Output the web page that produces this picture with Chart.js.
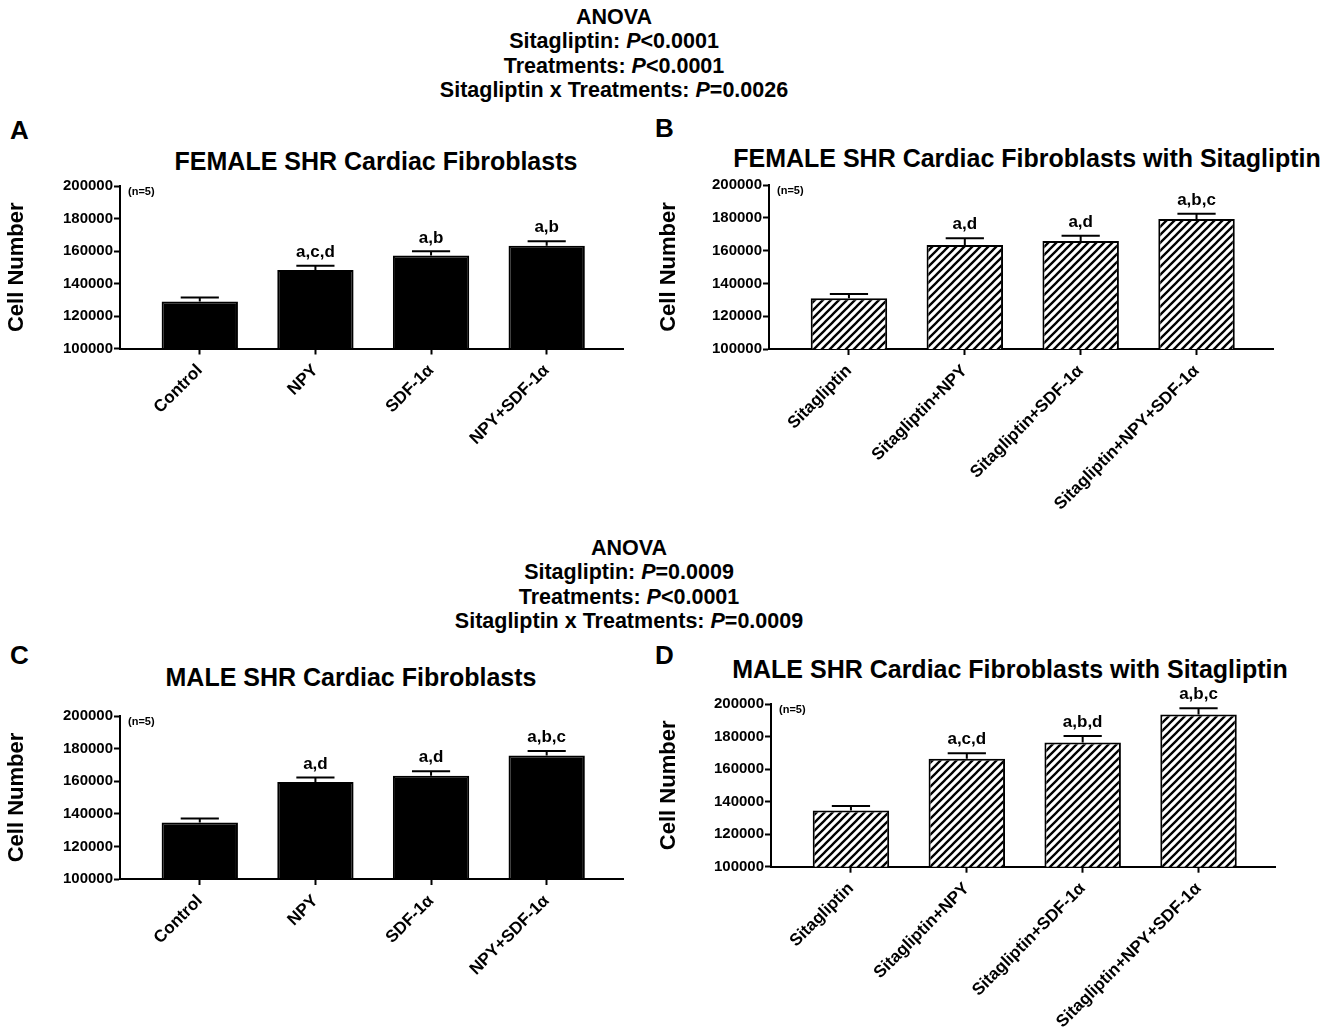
<!DOCTYPE html>
<html>
<head>
<meta charset="utf-8">
<script src="https://cdn.jsdelivr.net/npm/chart.js@4.4.0/dist/chart.umd.min.js"></script>
<style>
  body { margin: 0; background: #fff; width: 1338px; height: 1035px; position: relative; overflow: hidden;
         font-family: "Liberation Sans", Arial, sans-serif; font-weight: bold; color: #000; }
  .anova { position: absolute; width: 600px; text-align: center; font-size: 21.5px; line-height: 24.4px; }
  .letter { position: absolute; font-size: 26px; line-height: 1; }
  .ptitle { position: absolute; width: 700px; text-align: center; font-size: 25px; line-height: 1; white-space: nowrap; }
  canvas { position: absolute; }
</style>
</head>
<body>

<div class="anova" style="left:314px; top:5px;">
  ANOVA<br>Sitagliptin: <i>P</i>&lt;0.0001<br>Treatments: <i>P</i>&lt;0.0001<br>Sitagliptin x Treatments: <i>P</i>=0.0026
</div>
<div class="anova" style="left:329px; top:536px;">
  ANOVA<br>Sitagliptin: <i>P</i>=0.0009<br>Treatments: <i>P</i>&lt;0.0001<br>Sitagliptin x Treatments: <i>P</i>=0.0009
</div>

<div class="letter" style="left:10px; top:117px;">A</div>
<div class="letter" style="left:655px; top:115px;">B</div>
<div class="letter" style="left:10px; top:642px;">C</div>
<div class="letter" style="left:655px; top:642px;">D</div>

<div class="ptitle" style="left:26px; top:149px;">FEMALE SHR Cardiac Fibroblasts</div>
<div class="ptitle" style="left:677px; top:146px;">FEMALE SHR Cardiac Fibroblasts with Sitagliptin</div>
<div class="ptitle" style="left:1px; top:665px;">MALE SHR Cardiac Fibroblasts</div>
<div class="ptitle" style="left:660px; top:657px;">MALE SHR Cardiac Fibroblasts with Sitagliptin</div>

<canvas id="chartA"></canvas>
<canvas id="chartB"></canvas>
<canvas id="chartC"></canvas>
<canvas id="chartD"></canvas>

<script>
// categories
const treatmentLabels = ["Control", "NPY", "SDF-1α", "NPY+SDF-1α"];
const sitagliptinLabels = ["Sitagliptin", "Sitagliptin+NPY", "Sitagliptin+SDF-1α", "Sitagliptin+NPY+SDF-1α"];

// A: female
const femaleMeans = [128900, 148300, 157300, 163200];
const femaleSem = [2500, 2700, 2500, 2800];
const femaleLetters = ["", "a,c,d", "a,b", "a,b"];

// B: female + sitagliptin
const femaleSitaMeans = [130900, 163400, 165900, 179300];
const femaleSitaSem = [2600, 4100, 3200, 3200];
const femaleSitaLetters = ["", "a,d", "a,d", "a,b,c"];

// C: male
const maleMeans = [134700, 159500, 163400, 175700];
const maleSem = [2400, 2700, 2700, 2800];
const maleLetters = ["", "a,d", "a,d", "a,b,c"];

// D: male + sitagliptin
const maleSitaMeans = [134500, 166300, 176300, 193500];
const maleSitaSem = [2800, 3500, 4100, 3900];
const maleSitaLetters = ["", "a,c,d", "a,b,d", "a,b,c"];

// y axis
const yMin = 100000;
const yMax = 200000;
const yStep = 20000;

const FONT = '"Liberation Sans", Arial, sans-serif';

function hatchPattern() {
  const c = document.createElement("canvas");
  c.width = c.height = 8;
  const g = c.getContext("2d");
  g.fillStyle = "#fff";
  g.fillRect(0, 0, 8, 8);
  g.strokeStyle = "#000";
  g.lineWidth = 2.3;
  g.beginPath();
  g.moveTo(0, 8); g.lineTo(8, 0);
  g.moveTo(-2, 2); g.lineTo(2, -2);
  g.moveTo(6, 10); g.lineTo(10, 6);
  g.stroke();
  return g.createPattern(c, "repeat");
}

// error bars, significance letters and (n=5)
const barExtras = {
  id: "barExtras",
  afterDatasetsDraw(chart) {
    const ctx = chart.ctx;
    const yScale = chart.scales.y;
    const ds = chart.data.datasets[0];
    const meta = chart.getDatasetMeta(0);
    ctx.save();
    ctx.strokeStyle = "#000";
    ctx.fillStyle = "#000";
    ctx.lineWidth = 2;
    ctx.textAlign = "center";
    ctx.textBaseline = "bottom";
    ctx.font = "bold 17px " + FONT;
    meta.data.forEach((bar, i) => {
      const top = yScale.getPixelForValue(ds.data[i].y + ds.errors[i]);
      const half = bar.width / 4;
      ctx.beginPath();
      ctx.moveTo(bar.x, bar.y);
      ctx.lineTo(bar.x, top);
      ctx.moveTo(bar.x - half, top);
      ctx.lineTo(bar.x + half, top);
      ctx.stroke();
      if (ds.letters[i]) ctx.fillText(ds.letters[i], bar.x, top - 5);
    });
    ctx.font = "bold 11px " + FONT;
    ctx.textAlign = "left";
    ctx.textBaseline = "top";
    ctx.fillText("(n=5)", chart.chartArea.left + 8, chart.chartArea.top);
    ctx.restore();
  }
};

function makePanel(id, box, labels, means, sem, letters, hatched) {
  const canvas = document.getElementById(id);
  canvas.width = box.w;
  canvas.height = box.h;
  canvas.style.left = box.left + "px";
  canvas.style.top = box.top + "px";
  const yAxisW = box.areaLeft - box.left;
  const xAxisH = box.top + box.h - box.areaBottom;

  new Chart(canvas, {
    type: "bar",
    data: {
      datasets: [{
        data: means.map((v, i) => ({ x: i, y: v })),
        errors: sem,
        letters: letters,
        backgroundColor: hatched ? hatchPattern() : "#000",
        borderColor: "#000",
        borderWidth: 2,
        borderSkipped: false,
        barPercentage: 0.66,
        categoryPercentage: 1
      }]
    },
    options: {
      responsive: false,
      animation: false,
      events: [],
      layout: { padding: { left: 0, bottom: 0, top: box.areaTop - box.top, right: box.left + box.w - box.areaRight } },
      plugins: { legend: { display: false }, tooltip: { enabled: false } },
      scales: {
        x: {
          type: "linear",
          min: -0.69,
          max: 3.66,
          offset: false,
          afterBuildTicks: s => { s.ticks = labels.map((_, i) => ({ value: i })); },
          afterFit: s => { s.height = xAxisH; },
          grid: { display: true, drawOnChartArea: false, drawTicks: true, tickLength: 6, tickWidth: 2, tickColor: "#000", offset: false },
          border: { display: true, color: "#000", width: 2 },
          ticks: {
            autoSkip: false, maxRotation: 45, minRotation: 45, padding: 6, color: "#000",
            font: { family: FONT, size: 17, weight: "bold" },
            callback: v => labels[v]
          }
        },
        y: {
          min: yMin,
          max: yMax,
          afterFit: s => { s.width = yAxisW; },
          grid: { drawOnChartArea: false, tickLength: 6, tickWidth: 2, tickColor: "#000" },
          border: { display: true, color: "#000", width: 2 },
          ticks: {
            stepSize: yStep, padding: 1, color: "#000",
            font: { family: FONT, size: 15, weight: "bold" },
            callback: v => String(v)
          },
          title: {
            display: true, text: "Cell Number", color: "#000",
            font: { family: FONT, size: 22, weight: "bold" },
            padding: { top: box.titlePad, bottom: 0 }
          }
        }
      }
    },
    plugins: [barExtras]
  });
}

makePanel("chartA", { left: 0, top: 170, w: 650, h: 360, areaLeft: 120, areaRight: 623, areaTop: 186, areaBottom: 348.5, titlePad: 4 },
  treatmentLabels, femaleMeans, femaleSem, femaleLetters, false);
makePanel("chartB", { left: 649, top: 170, w: 689, h: 360, areaLeft: 769, areaRight: 1273, areaTop: 185, areaBottom: 349, titlePad: 7 },
  sitagliptinLabels, femaleSitaMeans, femaleSitaSem, femaleSitaLetters, true);
makePanel("chartC", { left: 0, top: 700, w: 650, h: 335, areaLeft: 120, areaRight: 623, areaTop: 716, areaBottom: 879, titlePad: 4 },
  treatmentLabels, maleMeans, maleSem, maleLetters, false);
makePanel("chartD", { left: 649, top: 676, w: 689, h: 359, areaLeft: 771, areaRight: 1275, areaTop: 704, areaBottom: 866.7, titlePad: 7 },
  sitagliptinLabels, maleSitaMeans, maleSitaSem, maleSitaLetters, true);
</script>
</body>
</html>
